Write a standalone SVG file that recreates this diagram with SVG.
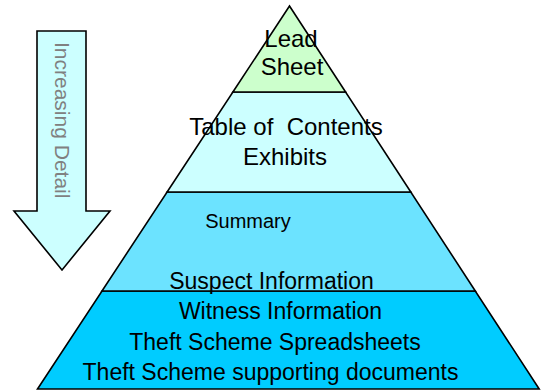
<svg xmlns="http://www.w3.org/2000/svg" width="545" height="391" viewBox="0 0 545 391">
<style>
.lay{stroke:#000;stroke-width:1.6;stroke-linejoin:miter}
.t{font-family:"Liberation Sans",Arial,sans-serif;font-size:23px;fill:#000;text-anchor:middle}
.s{font-size:20px}
.b{font-size:24px}
.a{font-family:"Liberation Sans",Arial,sans-serif;font-size:21px;fill:#808080}
</style>
<rect width="545" height="391" fill="#fff"/>
<g id="arrow">
<polygon points="37,31 86,31 86,211 110,211 62,270 14,211 37,211" fill="#CCFFFF" stroke="#000" stroke-width="1.6"/>
<text class="a" transform="translate(55,42) rotate(90)">Increasing Detail</text>
</g>
<g id="layer4">
<polygon class="lay" points="102,291 475.3,291 539.2,389 37.5,389" fill="#00CCFF"/>
<text class="t" x="280.5" y="319">Witness Information</text>
<text class="t" x="275" y="350">Theft Scheme Spreadsheets</text>
<text class="t" x="270.5" y="380">Theft Scheme supporting documents</text>
</g>
<g id="layer3">
<polygon class="lay" points="167.1,192 410.8,192 475.3,291 102,291" fill="#6CE3FF"/>
<text class="t s" x="248" y="228">Summary</text>
<text class="t" x="271.5" y="289">Suspect Information</text>
</g>
<g id="layer2">
<polygon class="lay" points="232.9,92 345.6,92 410.8,192 167.1,192" fill="#CCFFFF"/>
<text class="t b" x="286" y="135" xml:space="preserve">Table of  Contents</text>
<text class="t b" x="285" y="165">Exhibits</text>
</g>
<g id="layer1">
<polygon class="lay" points="289.5,6 345.6,92 232.9,92" fill="#CCFFCC"/>
<text class="t b" x="291" y="47">Lead</text>
<text class="t b" x="292" y="75">Sheet</text>
</g>
<g id="connectors"></g>
</svg>
